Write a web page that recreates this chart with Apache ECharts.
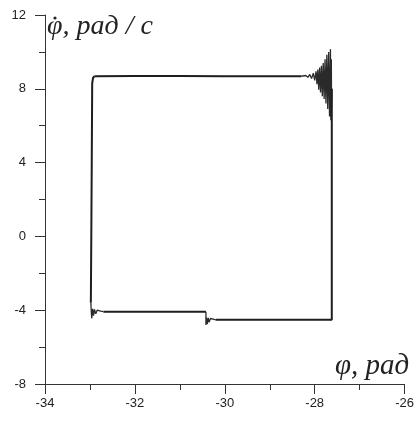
<!DOCTYPE html>
<html><head><meta charset="utf-8">
<script src="https://cdn.jsdelivr.net/npm/echarts@6/dist/echarts.min.js"></script>
<style>html,body{margin:0;padding:0;background:#fff}#c{width:417px;height:421px}</style>
</head><body><div id="c"></div>
<script>
// x ticks, y ticks
const xTicks = [-34, -32, -30, -28, -26];
const yTicks = [-8, -4, 0, 4, 8, 12];
// top branch: phi_dot ~ 8.68
const topLine = [
  [-32.90, 8.68], [-32.0, 8.69], [-31.0, 8.69], [-30.0, 8.68], [-29.0, 8.68], [-28.30, 8.68]
];
// growing oscillation near the right end of the top branch
const topOsc = [
  [-28.30, 8.68], [-28.20, 8.72], [-28.15, 8.62], [-28.11, 8.78], [-28.07, 8.56], [-28.03, 8.85],
  [-28.00, 8.45], [-27.97, 8.95], [-27.95, 8.25], [-27.93, 9.05], [-27.91, 7.95], [-27.89, 9.15],
  [-27.87, 7.80], [-27.85, 9.25], [-27.83, 7.60], [-27.81, 9.40], [-27.79, 7.45], [-27.77, 9.60],
  [-27.75, 7.20], [-27.73, 9.85], [-27.71, 6.90], [-27.69, 10.0], [-27.67, 6.50], [-27.65, 10.15],
  [-27.64, 6.30], [-27.63, 9.60], [-27.625, 7.0], [-27.62, 8.0]
];
// right side drop and lower-right branch (phi_dot ~ -4.52)
const bottomRight = [
  [-27.62, 8.0], [-27.62, -4.52], [-28.5, -4.52], [-29.5, -4.52], [-30.20, -4.52]
];
// oscillation at the step
const stepOsc = [
  [-30.20, -4.52], [-30.26, -4.48], [-30.29, -4.58], [-30.32, -4.45], [-30.35, -4.65],
  [-30.37, -4.42], [-30.39, -4.75], [-30.41, -4.38], [-30.42, -4.80], [-30.42, -4.08]
];
// lower-left branch (phi_dot ~ -4.08)
const bottomLeft = [
  [-30.42, -4.08], [-31.5, -4.08], [-32.70, -4.08]
];
// oscillation near the lower-left corner
const cornerOsc = [
  [-32.70, -4.08], [-32.76, -4.05], [-32.80, -4.14], [-32.84, -4.00], [-32.87, -4.20],
  [-32.90, -3.96], [-32.92, -4.30], [-32.94, -3.92], [-32.96, -4.44], [-32.97, -4.10], [-32.98, -3.60]
];
// rise along the left side back to the top branch
const leftRise = [
  [-32.98, -3.60], [-32.97, 0.0], [-32.96, 4.0], [-32.95, 8.30], [-32.93, 8.60], [-32.90, 8.68]
];

const chart = echarts.init(document.getElementById('c'), null, {renderer: 'canvas'});
const labelStyle = {color: '#222', fontFamily: 'Liberation Sans', fontSize: 13};
const thick = {color: '#1e1e1e', width: 2};
const thin = {color: '#2a2a2a', width: 1.3};
function seg(data, ls) {
  return {type: 'line', data: data, showSymbol: false, symbol: 'none', lineStyle: ls, silent: true};
}
chart.setOption({
  animation: false,
  backgroundColor: '#fff',
  grid: {left: 45, right: 11, top: 15, bottom: 37, containLabel: false},
  xAxis: {
    type: 'value', min: xTicks[0], max: xTicks[xTicks.length - 1], interval: 2,
    axisLine: {show: true, onZero: false, lineStyle: {color: '#333', width: 1}},
    axisTick: {show: true, length: 10, lineStyle: {color: '#333'}},
    minorTick: {show: true, splitNumber: 2, length: 6, lineStyle: {color: '#333'}},
    splitLine: {show: false},
    axisLabel: Object.assign({margin: 13}, labelStyle)
  },
  yAxis: {
    type: 'value', min: yTicks[0], max: yTicks[yTicks.length - 1], interval: 4,
    axisLine: {show: true, onZero: false, lineStyle: {color: '#333', width: 1}},
    axisTick: {show: true, length: 10, lineStyle: {color: '#333'}},
    minorTick: {show: true, splitNumber: 2, length: 6, lineStyle: {color: '#333'}},
    splitLine: {show: false},
    axisLabel: Object.assign({margin: 19}, labelStyle)
  },
  graphic: [
    {type: 'text', left: 47, top: 13, style: {text: 'φ, рад / с', font: 'italic 28px "Liberation Serif"', fill: '#222'}},
    {type: 'circle', shape: {cx: 55, cy: 18, r: 1.6}, style: {fill: '#222'}},
    {type: 'text', left: 335, top: 352, style: {text: 'φ, рад', font: 'italic 29px "Liberation Serif"', fill: '#222'}}
  ],
  series: [
    seg(topLine, thick), seg(topOsc, thin), seg(bottomRight, thick), seg(stepOsc, thin),
    seg(bottomLeft, thick), seg(cornerOsc, thin), seg(leftRise, thick)
  ]
});
</script></body></html>
